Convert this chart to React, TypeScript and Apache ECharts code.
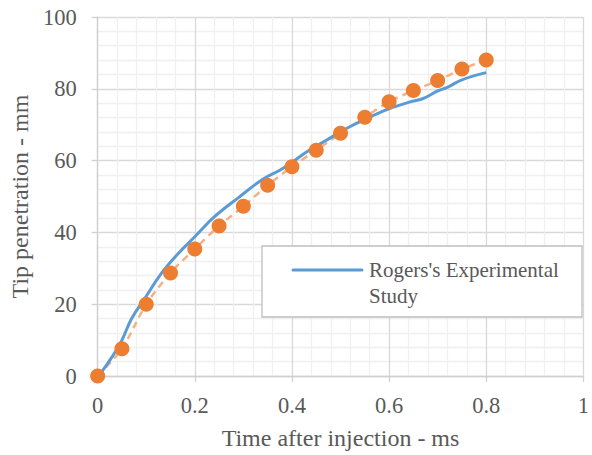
import React, { useEffect, useRef } from "react";
import * as echarts from "echarts";

const seriesNameExp = "Rogers's Experimental Study";
const seriesNameModel = "Simulation";

const expTime = [0, 0.01, 0.03, 0.05, 0.07, 0.1, 0.13, 0.165, 0.2, 0.24, 0.29, 0.34, 0.375, 0.4, 0.43, 0.47, 0.52, 0.59, 0.64, 0.67, 0.7, 0.72, 0.75, 0.8];
const expPen = [0, 1.5, 5.4, 10, 16, 22.2, 28.4, 34, 38.8, 44.3, 49.7, 54.8, 57.3, 59.5, 62.4, 65.6, 69.5, 73.9, 76.2, 77.3, 79.4, 80.4, 82.5, 84.5];

const simTime = [0, 0.05, 0.1, 0.15, 0.2, 0.25, 0.3, 0.35, 0.4, 0.45, 0.5, 0.55, 0.6, 0.65, 0.7, 0.75, 0.8];
const simPen = [0, 7.6, 20, 28.7, 35.4, 41.8, 47.3, 53.1, 58.3, 62.9, 67.6, 72.1, 76.4, 79.5, 82.3, 85.5, 88.0];

const xTicks = [0, 0.2, 0.4, 0.6, 0.8, 1];
const yTicks = [0, 20, 40, 60, 80, 100];

const FONT = "'Liberation Serif', 'Times New Roman', serif";
const TXT = "#595959";

export default function App() {
  const ref = useRef<HTMLDivElement>(null);
  useEffect(() => {
    if (!ref.current) return;
    const chart = echarts.init(ref.current, undefined, { renderer: "svg" });
    const simData = simTime.map((t, i) => [t, simPen[i]]);
    chart.setOption({
      animation: false,
      backgroundColor: "#ffffff",
      textStyle: { fontFamily: FONT },
      grid: { left: 93.5, right: 3, top: 17, bottom: 75.5, containLabel: false },
      xAxis: {
        type: "value",
        min: xTicks[0],
        max: xTicks[xTicks.length - 1],
        interval: 0.2,
        name: "Time after injection - ms",
        nameLocation: "middle",
        nameGap: 50,
        nameTextStyle: { color: TXT, fontSize: 24, fontFamily: FONT },
        axisLine: { show: true, lineStyle: { color: "#d0d0d0", width: 1.3 } },
        axisTick: { show: true, length: 6, lineStyle: { color: "#d0d0d0", width: 1.3 } },
        axisLabel: {
          color: TXT,
          fontSize: 22.5,
          fontFamily: FONT,
          margin: 18,
          formatter: (v: number) => String(Math.round(v * 10) / 10),
        },
        splitLine: { show: true, lineStyle: { color: "#d9d9d9", width: 1.3 } },
        minorTick: { show: false, splitNumber: 5 },
        minorSplitLine: { show: true, lineStyle: { color: "#f0f0f0", width: 1.3 } },
      },
      yAxis: {
        type: "value",
        min: yTicks[0],
        max: yTicks[yTicks.length - 1],
        interval: 20,
        name: "Tip penetration - mm",
        nameLocation: "middle",
        nameGap: 64,
        nameTextStyle: { color: TXT, fontSize: 24, fontFamily: FONT },
        axisLine: { show: true, lineStyle: { color: "#d0d0d0", width: 1.3 } },
        axisTick: { show: true, length: 6, lineStyle: { color: "#d0d0d0", width: 1.3 } },
        axisLabel: { color: TXT, fontSize: 22.5, fontFamily: FONT, margin: 21 },
        splitLine: { show: true, lineStyle: { color: "#d9d9d9", width: 1.3 } },
        minorTick: { show: false, splitNumber: 5 },
        minorSplitLine: { show: true, lineStyle: { color: "#f0f0f0", width: 1.3 } },
      },
      series: [
        {
          name: seriesNameModel,
          type: "line",
          data: simData,
          smooth: 0.3,
          symbol: "none",
          lineStyle: { color: "#f4b183", width: 2.5, type: [7, 5] },
          z: 1,
        },
        {
          name: seriesNameExp,
          type: "line",
          data: expTime.map((t, i) => [t, expPen[i]]),
          smooth: 0.4,
          showSymbol: false,
          symbol: "none",
          lineStyle: { color: "#5b9bd5", width: 3 },
          z: 2,
        },
        {
          name: seriesNameModel + " points",
          type: "scatter",
          data: simData,
          symbol: "circle",
          symbolSize: 15,
          itemStyle: { color: "#ed7d31", opacity: 1 },
          z: 3,
        },
      ],
      graphic: [
        {
          type: "rect",
          z: 100,
          shape: { x: 262, y: 246, width: 320, height: 71 },
          style: { fill: "#ffffff", stroke: "#bfbfbf", lineWidth: 1.3 },
        },
        {
          type: "line",
          z: 101,
          shape: { x1: 293, y1: 270, x2: 362, y2: 270 },
          style: { stroke: "#5b9bd5", lineWidth: 3, lineCap: "round" },
        },
        {
          type: "text",
          z: 101,
          x: 369,
          y: 257,
          style: {
            text: "Rogers's Experimental\nStudy",
            fill: TXT,
            font: `21px ${FONT}`,
            lineHeight: 26,
            verticalAlign: "top",
          },
        },
      ],
    });
    return () => chart.dispose();
  }, []);
  return <div ref={ref} style={{ width: 592, height: 455, position: "absolute", left: 0, top: 0 }} />;
}
